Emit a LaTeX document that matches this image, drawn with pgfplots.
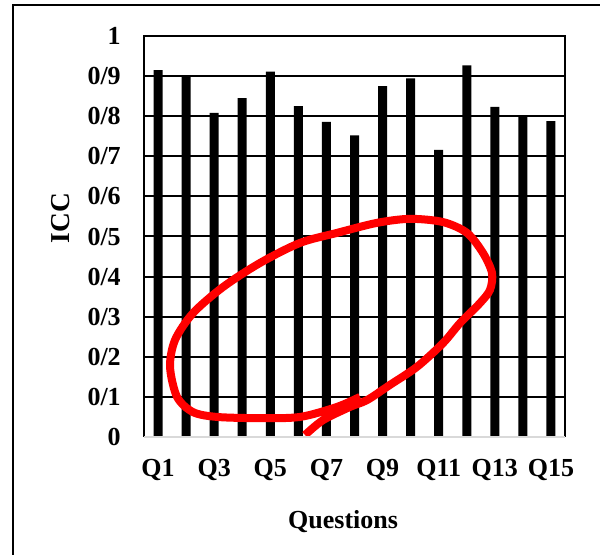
\documentclass[border=0pt]{standalone}
\usepackage{fontspec}
\setmainfont{Liberation Serif}
\usepackage{pgfplots}
\pgfplotsset{compat=1.18}
\begin{document}
\begin{tikzpicture}
\useasboundingbox (0,0) rectangle (450pt,416.25pt);
\draw[line width=1.5pt] (9.75pt,0) -- (9.75pt,412.5pt) -- (450pt,412.5pt);
\begin{axis}[
    at={(108pt,88.5pt)}, anchor=south west,
    scale only axis, width=315.75pt, height=300.75pt,
    xmin=0.5, xmax=15.5, ymin=0, ymax=1,
    xtick={1,3,5,7,9,11,13,15},
    xticklabels={Q1,Q3,Q5,Q7,Q9,Q11,Q13,Q15},
    ytick={0,0.1,0.2,0.3,0.4,0.5,0.6,0.7,0.8,0.9,1},
    yticklabels={0,0/1,0/2,0/3,0/4,0/5,0/6,0/7,0/8,0/9,1},
    major tick length=0pt,
    ymajorgrids, grid style={black, line width=1.5pt},
    axis line style={draw=none},
    tick label style={font=\bfseries\fontsize{19.5}{23}\selectfont, inner sep=0pt},
    yticklabel style={anchor=east, xshift=-17.25pt},
    xticklabel style={anchor=base, yshift=-30pt},
    xlabel={Questions}, ylabel={ICC},
    label style={font=\bfseries\fontsize{19.5}{23}\selectfont},
    ylabel style={font=\bfseries\fontsize{20.5}{24}\selectfont},
    xlabel style={at={(rel axis cs:0.473,-0.227)}, anchor=base},
    ylabel style={at={(rel axis cs:-0.197,0.546)}, anchor=center},
    clip=false,
  ]
  \addplot[ybar, bar width=6.75pt, fill=black, draw=none] coordinates {
      (1,0.915) (2,0.902) (3,0.808) (4,0.845) (5,0.911)
      (6,0.825) (7,0.786) (8,0.752) (9,0.875) (10,0.894)
      (11,0.716) (12,0.927) (13,0.823) (14,0.798) (15,0.788)
    };
  % hand-drawn red loop
  \addplot[red, line width=6pt, smooth, mark=none, line cap=butt] coordinates {
      (6.237,0.005) (6.878,0.042) (7.840,0.075) (8.446,0.092)
      (9.265,0.130) (10.227,0.175) (11.153,0.234) (11.759,0.284)
      (12.471,0.334) (12.828,0.367) (12.899,0.409) (12.578,0.459)
      (12.008,0.509) (11.153,0.536) (9.978,0.544) (8.802,0.534)
      (7.377,0.509) (6.059,0.484) (4.634,0.434) (3.316,0.374)
      (2.247,0.309) (1.606,0.242) (1.428,0.175) (1.677,0.100)
      (2.247,0.062) (3.102,0.050) (4.634,0.047) (6.059,0.050)
      (7.377,0.075) (8.196,0.100)
    };
  \draw[line width=1.5pt] (rel axis cs:0,0) -- (rel axis cs:0,1)
    -- (rel axis cs:1,1) -- (rel axis cs:1,0);
  \draw[black!15, line width=1.5pt] (rel axis cs:0,0) -- (rel axis cs:1,0);
\end{axis}
\end{tikzpicture}
\end{document}
